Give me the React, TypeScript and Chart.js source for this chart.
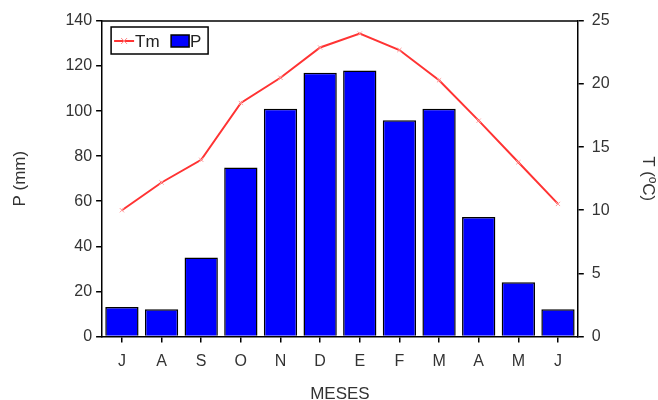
import React, { useEffect, useRef } from "react";
import { Chart, registerables } from "chart.js";

Chart.register(...registerables);

const months = ["J", "A", "S", "O", "N", "D", "E", "F", "M", "A", "M", "J"];
const precipitation = [13, 12, 35, 75, 101, 117, 118, 96, 101, 53, 24, 12];
const temperature = [10.0, 12.2, 14.0, 18.5, 20.5, 22.9, 24.0, 22.7, 20.3, 17.1, 13.8, 10.5];
const pTicks = [0, 20, 40, 60, 80, 100, 120, 140];
const tTicks = [0, 5, 10, 15, 20, 25];

const FONT = "'Liberation Sans', Arial, Helvetica, sans-serif";
const TEXT = "#333333";
const TICK_SIZE = 16;
const TITLE_SIZE = 17;

const framePlugin = {
  id: "frameAndLegend",
  afterDraw(chart: any) {
    const { ctx, chartArea } = chart;
    const { left, right, top } = chartArea;
    ctx.save();
    // top border
    ctx.strokeStyle = "#000";
    ctx.lineWidth = 1.5;
    ctx.beginPath();
    ctx.moveTo(left, top);
    ctx.lineTo(right, top);
    ctx.stroke();

    // legend box
    const bx = left + 9;
    const by = top + 6;
    const bw = 97;
    const bh = 27;
    ctx.fillStyle = "#fff";
    ctx.fillRect(bx, by, bw, bh);
    ctx.lineWidth = 1.5;
    ctx.strokeStyle = "#000";
    ctx.strokeRect(bx, by, bw, bh);
    const cy = by + bh / 2 + 0.5;
    // Tm line sample
    ctx.strokeStyle = "#ff3333";
    ctx.lineWidth = 2;
    ctx.beginPath();
    ctx.moveTo(bx + 3, cy);
    ctx.lineTo(bx + 23, cy);
    ctx.stroke();
    ctx.strokeStyle = "#ff8888";
    ctx.lineWidth = 1;
    ctx.beginPath();
    ctx.moveTo(bx + 10, cy - 3);
    ctx.lineTo(bx + 16, cy + 3);
    ctx.moveTo(bx + 16, cy - 3);
    ctx.lineTo(bx + 10, cy + 3);
    ctx.stroke();
    ctx.fillStyle = "#222";
    ctx.font = `${TITLE_SIZE}px ${FONT}`;
    ctx.textBaseline = "middle";
    ctx.textAlign = "left";
    ctx.fillText("Tm", bx + 24, cy + 1);
    // P box
    ctx.fillStyle = "#0000ff";
    ctx.fillRect(bx + 60, cy - 6, 18, 12);
    ctx.strokeStyle = "#000";
    ctx.lineWidth = 1.5;
    ctx.strokeRect(bx + 60, cy - 6, 18, 12);
    ctx.fillStyle = "#222";
    ctx.fillText("P", bx + 79, cy + 1);
    ctx.restore();
  },
};

export default function App() {
  const ref = useRef<HTMLCanvasElement | null>(null);

  useEffect(() => {
    if (!ref.current) return;
    const chart = new Chart(ref.current, {
      type: "bar",
      data: {
        labels: months,
        datasets: [
          {
            type: "line",
            label: "Tm",
            data: temperature,
            yAxisID: "yT",
            borderColor: "#ff3333",
            borderWidth: 2,
            pointStyle: "crossRot",
            pointRadius: 3,
            pointBorderColor: "#ff9999",
            pointBorderWidth: 1,
            tension: 0,
            order: 0,
          } as any,
          {
            type: "bar",
            label: "P",
            data: precipitation,
            yAxisID: "yP",
            backgroundColor: "#0000ff",
            borderColor: "#000000",
            borderWidth: 1.5,
            barPercentage: 0.84,
            categoryPercentage: 1.0,
            order: 1,
          },
        ],
      },
      options: {
        animation: false,
        responsive: true,
        maintainAspectRatio: false,
        layout: { padding: { left: 10, right: 0, top: 21, bottom: -5 } },
        plugins: {
          legend: { display: false },
          tooltip: { enabled: false },
        },
        scales: {
          x: {
            grid: {
              display: true,
              drawOnChartArea: false,
              offset: false,
              tickLength: 6,
              color: "#000",
              lineWidth: 1.5,
            },
            border: { display: true, color: "#000", width: 1.5 },
            ticks: { color: TEXT, font: { family: FONT, size: TICK_SIZE }, padding: 10 },
            title: {
              display: true,
              text: "MESES",
              color: TEXT,
              font: { family: FONT, size: TITLE_SIZE },
              padding: { top: 3, bottom: 0 },
            },
          },
          yP: {
            type: "linear",
            position: "left",
            min: 0,
            max: 140,
            afterBuildTicks: (axis: any) => {
              axis.ticks = pTicks.map((v) => ({ value: v }));
            },
            grid: {
              display: true,
              drawOnChartArea: false,
              tickLength: 6,
              color: "#000",
              lineWidth: 1.5,
            },
            border: { display: true, color: "#000", width: 1.5 },
            ticks: { color: TEXT, font: { family: FONT, size: TICK_SIZE }, padding: 4 },
            title: {
              display: true,
              text: "P (mm)",
              color: TEXT,
              font: { family: FONT, size: TITLE_SIZE },
              padding: { top: 0, bottom: 31 },
            },
          },
          yT: {
            type: "linear",
            position: "right",
            min: 0,
            max: 25,
            afterBuildTicks: (axis: any) => {
              axis.ticks = tTicks.map((v) => ({ value: v }));
            },
            grid: {
              display: true,
              drawOnChartArea: false,
              tickLength: 6,
              color: "#000",
              lineWidth: 1.5,
            },
            border: { display: true, color: "#000", width: 1.5 },
            ticks: { color: TEXT, font: { family: FONT, size: TICK_SIZE }, padding: 8 },
            title: {
              display: true,
              text: "T (ºC)",
              color: TEXT,
              font: { family: FONT, size: TITLE_SIZE },
              padding: { top: 0, bottom: 20 },
            },
          },
        },
      },
      plugins: [framePlugin],
    });
    return () => chart.destroy();
  }, []);

  return (
    <div style={{ position: "fixed", left: 0, top: 0, width: 658, height: 400, background: "#fff" }}>
      <canvas ref={ref} />
    </div>
  );
}
